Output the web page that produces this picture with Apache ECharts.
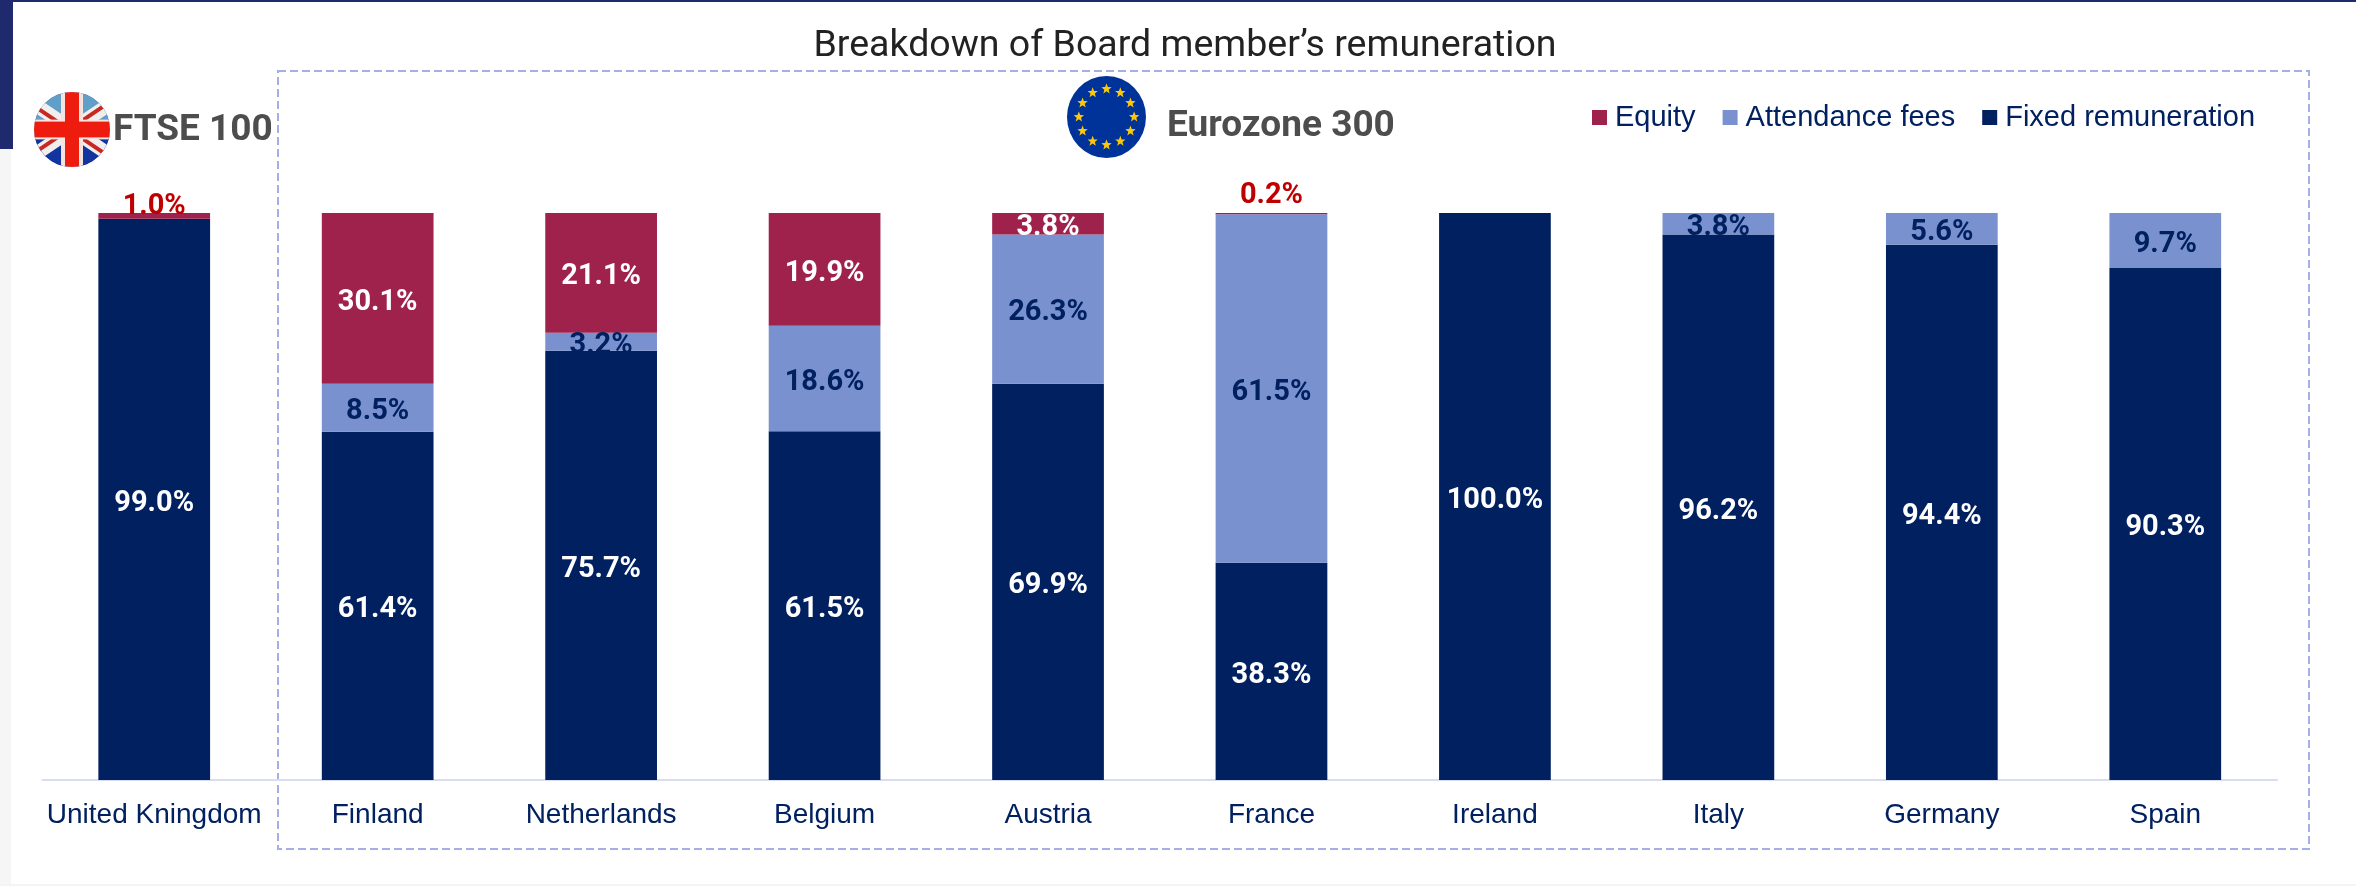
<!DOCTYPE html>
<html><head><meta charset="utf-8">
<style>html,body{margin:0;padding:0;background:#fff}#c{width:2356px;height:886px}</style>
<script src="https://cdn.jsdelivr.net/npm/echarts@6/dist/echarts.min.js"></script>
</head><body><div id="c"></div>
<script>
const categories = ['United Kningdom','Finland','Netherlands','Belgium','Austria','France','Ireland','Italy','Germany','Spain'];
const fixedRemuneration = [99.0,61.4,75.7,61.5,69.9,38.3,100.0,96.2,94.4,90.3];
const attendanceFees = [null,8.5,3.2,18.6,26.3,61.5,null,3.8,5.6,9.7];
const equity = [1.0,30.1,21.1,19.9,3.8,0.2,null,null,null,null];
const NAVY='#002060', BLUE='#7A91CF', CRIMSON='#9F224C', RED='#C00000';
const ukSvg = `<svg xmlns="http://www.w3.org/2000/svg" width="76" height="76" viewBox="0 0 76 76"><defs><clipPath id="a"><circle cx="38" cy="38" r="38"/></clipPath></defs><g clip-path="url(#a)"><rect width="76" height="76" fill="#1f3f9a"/><rect x="0" y="0" width="76" height="30" fill="#5f9fc8"/><rect x="0" y="46" width="76" height="30" fill="#12349e"/><path d="M0 12L76 64M0 64L76 12" stroke="#f3eeee" stroke-width="14"/><path d="M0 14L76 66M0 62L76 10" stroke="#c8281f" stroke-width="4"/><rect x="27" width="22" height="76" fill="#f6e3e0"/><rect y="28" width="76" height="20" fill="#f6e3e0"/><rect x="31" width="14" height="76" fill="#ee1c0e"/><rect y="30" width="76" height="16" fill="#ee1c0e"/></g></svg>`;
const starPts = (cx,cy,r)=>{let p=[];for(let i=0;i<10;i++){const a=-Math.PI/2+i*Math.PI/5,q=i%2?r*0.42:r;p.push((cx+q*Math.cos(a)).toFixed(1)+','+(cy+q*Math.sin(a)).toFixed(1));}return p.join(' ');};
let stars='';for(let i=0;i<12;i++){const a=i*Math.PI/6;stars+=`<polygon fill="#fcc80e" points="${starPts(40+28*Math.cos(a),41+28*Math.sin(a),5.5)}"/>`;}
const euSvg = `<svg xmlns="http://www.w3.org/2000/svg" width="80" height="82" viewBox="0 0 80 82"><ellipse cx="40" cy="41" rx="40" ry="41" fill="#003399"/>${stars}</svg>`;
const uri = s => 'data:image/svg+xml;charset=utf-8,'+encodeURIComponent(s);

const labelFont = {fontFamily:'Roboto',fontWeight:'bold',fontSize:29,offset:[0,4]};
const fmt = p => p.value==null ? '' : p.value.toFixed(1)+'%';
const equityData = equity.map((v,i)=>{
  if (v!==null && v<=1.0) return {value:v,label:{position:'top',distance:v<1?3:-8,color:RED,offset:[0,0]}};
  return {value:v};
});
const chart = echarts.init(document.getElementById('c'),null,{renderer:'canvas'});
chart.setOption({
  animation:false,
  backgroundColor:'#fff',
  title:{text:'Breakdown of Board member’s remuneration',left:1180,top:23,textAlign:'center',
    textStyle:{fontFamily:'Roboto',fontWeight:'normal',fontSize:37.5,color:'#222'}},
  legend:{data:['Equity','Attendance fees','Fixed remuneration'],left:1587,top:98,icon:'rect',
    itemWidth:15,itemHeight:15,itemGap:27,
    textStyle:{fontFamily:'Liberation Sans',fontSize:29,color:NAVY,padding:[0,0,0,3]}},
  grid:{left:42.5,right:79,top:213,height:567,containLabel:false},
  xAxis:{type:'category',data:categories,
    axisLine:{lineStyle:{color:'#D9DDF3',width:2}},axisTick:{show:false},
    axisLabel:{interval:0,fontFamily:'Liberation Sans',fontSize:28,color:NAVY,margin:21}},
  yAxis:{type:'value',min:0,max:100,show:false},
  series:[
    {name:'Fixed remuneration',type:'bar',stack:'a',barWidth:'50%',data:fixedRemuneration,itemStyle:{color:NAVY},
      label:{show:true,position:'inside',color:'#fff',formatter:fmt,...labelFont}},
    {name:'Attendance fees',type:'bar',stack:'a',data:attendanceFees,itemStyle:{color:BLUE},
      label:{show:true,position:'inside',color:NAVY,formatter:fmt,...labelFont}},
    {name:'Equity',type:'bar',stack:'a',data:equityData,itemStyle:{color:CRIMSON},
      label:{show:true,position:'inside',color:'#fff',formatter:fmt,...labelFont}}
  ],
  graphic:[
    {type:'rect',z:-1,shape:{x:0,y:0,width:2356,height:2},style:{fill:'#1F2A6E'}},
    {type:'rect',z:-1,shape:{x:0,y:0,width:13,height:149},style:{fill:'#1F2A6E'}},
    {type:'rect',z:-1,shape:{x:0,y:149,width:11,height:737},style:{fill:'#F6F6F6'}},
    {type:'rect',z:-1,shape:{x:0,y:884,width:2356,height:2},style:{fill:'#F4F4F4'}},
    {type:'rect',z:0,shape:{x:278,y:71,width:2031,height:778},
      style:{fill:'none',stroke:'#A6AEE6',lineWidth:2,lineDash:[8,4]}},
    {type:'image',z:5,style:{image:uri(ukSvg),x:34,y:92,width:76,height:75}},
    {type:'image',z:5,style:{image:uri(euSvg),x:1067,y:76,width:79,height:82}},
    {type:'text',z:5,style:{text:'FTSE 100',x:113,y:131,verticalAlign:'middle',fill:'#4D4D4D',font:'bold 37px Roboto'}},
    {type:'text',z:5,style:{text:'Eurozone 300',x:1167,y:127,verticalAlign:'middle',fill:'#4D4D4D',font:'bold 37px Roboto'}}
  ]
});
</script></body></html>
